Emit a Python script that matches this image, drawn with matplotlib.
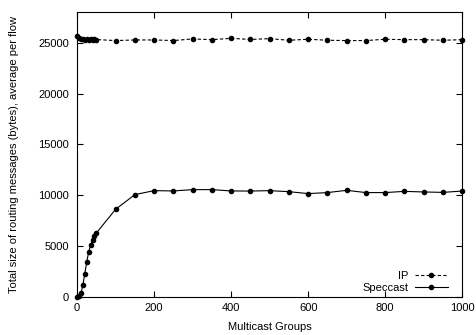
import matplotlib
matplotlib.use("Agg")
import matplotlib.pyplot as plt

plt.rcParams["font.family"] = ["Liberation Sans", "DejaVu Sans"]
plt.rcParams["font.size"] = 8

# multicast groups (x) shared by both series
groups = [0, 5, 10, 15, 20, 25, 30, 35, 40, 45, 50,
          100, 150, 200, 250, 300, 350, 400, 450, 500, 550, 600,
          650, 700, 750, 800, 850, 900, 950, 1000]

ip_bytes = [25600, 25450, 25350, 25400, 25300, 25350, 25300, 25350, 25300, 25350, 25300,
            25200, 25260, 25260, 25200, 25360, 25290, 25420, 25310, 25390, 25230, 25330,
            25230, 25200, 25200, 25330, 25290, 25290, 25230, 25290]

speccast_bytes = [30, 130, 360, 1180, 2320, 3460, 4440, 5100, 5650, 6050, 6300,
                  8630, 10070, 10460, 10430, 10560, 10560, 10430, 10420, 10460, 10360, 10170,
                  10270, 10490, 10270, 10270, 10390, 10330, 10290, 10420]

fig = plt.figure(figsize=(4.76, 3.35), dpi=100)
ax = fig.add_axes([0.162, 0.113, 0.809, 0.851])

ax.plot(groups, ip_bytes, color="black", lw=0.8, ls=(0, (3, 2)),
        marker="o", markersize=3, label="IP", clip_on=False)
ax.plot(groups, speccast_bytes, color="black", lw=0.8,
        marker="o", markersize=3, label="Speccast", clip_on=False)

ax.set_xlim(0, 1000)
ax.set_ylim(0, 28000)
ax.set_xticks(range(0, 1001, 200))
ax.set_yticks(range(0, 25001, 5000))
ax.tick_params(direction="in", top=True, right=True, length=4, width=0.8)
ax.tick_params(axis="y", pad=6)
ax.tick_params(axis="x", pad=4)
for s in ax.spines.values():
    s.set_linewidth(0.8)

ax.set_xlabel("Multicast Groups", labelpad=7)
ax.set_ylabel("Total size of routing messages (bytes), average per flow", labelpad=14)

ax.legend(loc="lower right", bbox_to_anchor=(0.985, -0.018), frameon=False,
          markerfirst=False, handlelength=2.9, handletextpad=0.6,
          labelspacing=0.2, borderaxespad=0.4)

fig.savefig("out.png", dpi=100)
